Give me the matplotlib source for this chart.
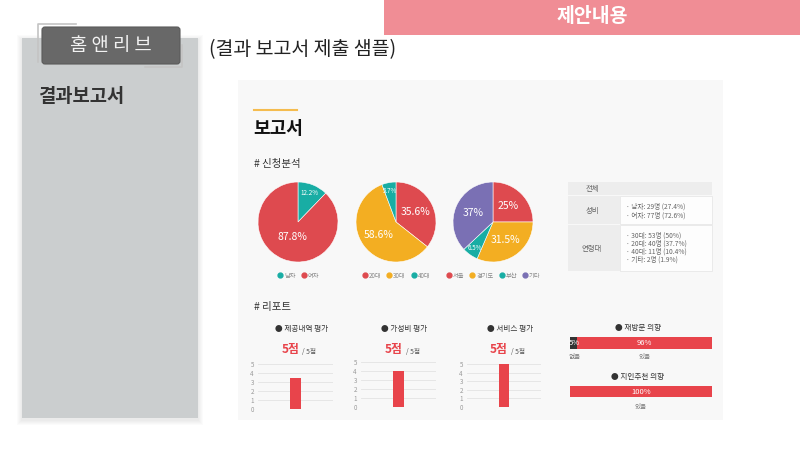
import numpy as np
import matplotlib.pyplot as plt
from matplotlib.patches import Rectangle, FancyBboxPatch
from matplotlib.lines import Line2D

plt.rcParams['font.family'] = ['Noto Sans CJK KR', 'DejaVu Sans']

W, H = 800, 450

# 신청분석 데이터
gender_labels = ['남자', '여자']
gender_pct = [12.2, 87.8]
age_labels = ['20대', '30대', '40대']
age_pct = [35.6, 58.6, 5.7]
region_labels = ['서울', '경기도', '부산', '기타']
region_pct = [25, 31.5, 6.5, 37]

# 표 데이터
table_gender = ['남자: 29명 (27.4%)', '여자: 77명 (72.6%)']
table_age = ['30대: 53명 (50%)', '20대: 40명 (37.7%)', '40대: 11명 (10.4%)', '기타: 2명 (1.9%)']

# 리포트 데이터
score_titles = ['제공내역 평가', '가성비 평가', '서비스 평가']
score_values = [3.5, 4, 5]
score_ticks = [0, 1, 2, 3, 4, 5]

revisit_labels = ['없음', '있음']
revisit_pct = [5, 96]
recommend_labels = ['있음']
recommend_pct = [100]

RED = '#DE4A4F'
TEAL = '#18ADA4'
YELLOW = '#F3AE22'
PURPLE = '#7A70B4'
BAR_RED = '#E8444B'

fig = plt.figure(figsize=(8, 4.5), dpi=100)
bg = fig.add_axes([0, 0, 1, 1])
bg.set_xlim(0, W)
bg.set_ylim(H, 0)
bg.axis('off')


def px_axes(x0, y0, x1, y1):
    ax = fig.add_axes([x0 / W, 1 - y1 / H, (x1 - x0) / W, (y1 - y0) / H])
    ax.patch.set_alpha(0)
    return ax


# 상단 배너
bg.add_patch(Rectangle((384, 0), 416, 35, fc='#F08D95', ec='none'))
bg.text(592, 17, '제안내용', color='white', size=14, weight='bold', ha='center', va='center')

# 왼쪽 회색 패널 (그림자 포함)
for i in range(1, 6):
    bg.add_patch(Rectangle((22 - i, 38 - i + 2), 176 + 2 * i, 380 + 2 * i,
                           fc='black', ec='none', alpha=0.015))
bg.add_patch(Rectangle((22, 38), 176, 380, fc='#CBCECF', ec='none'))
bg.plot([38, 38, 76], [62, 24, 24], color='#c4c4c4', lw=1.2)
bg.plot([145, 182, 182], [67, 67, 45], color='#c4c4c4', lw=1.2)
bg.add_patch(FancyBboxPatch((42, 27), 138, 37, boxstyle='round,pad=0,rounding_size=3',
                            fc='#686868', ec='#5a5a5a', lw=0.8))
bg.text(111, 45, '홈 앤 리 브', color='#f2f2f2', size=13.5, ha='center', va='center')
bg.text(38, 96, '결과보고서', color='#333333', size=13.5, weight='bold', va='center')

bg.text(209, 50, '(결과 보고서 제출 샘플)', color='#222222', size=14, va='center')

# 보고서 패널
bg.add_patch(Rectangle((238, 80), 485, 340, fc='#F8F8F8', ec='none'))
bg.plot([254, 297], [110, 110], color='#F5BC4F', lw=1.5)
bg.text(253, 129, '보고서', color='#111111', size=13, weight='bold', va='center')
bg.text(254, 164, '# 신청분석', color='#333333', size=7.5, va='center')
bg.text(254, 307, '# 리포트', color='#333333', size=7.5, va='center')


def draw_pie(cx, cy, values, labels, colors):
    r = 40
    ax = px_axes(cx - r, cy - r, cx + r, cy + r)
    wedges, _ = ax.pie(values, colors=colors, startangle=90, counterclock=False,
                       wedgeprops=dict(edgecolor='white', linewidth=0.4))
    ax.set_xlim(-1, 1)
    ax.set_ylim(-1, 1)
    ax.set_aspect('equal')
    for w, v in zip(wedges, values):
        ang = np.deg2rad((w.theta1 + w.theta2) / 2)
        if v < 15:
            d, fs = 0.78, 4.5
        elif v > 80:
            d, fs = 0.4, 7.5
        else:
            d, fs = 0.55, 7.5
        ax.text(d * np.cos(ang), d * np.sin(ang), f'{v:g}%', color='white',
                size=fs, ha='center', va='center')
    handles = [Line2D([], [], marker='o', ls='none', color=c, markersize=3.5) for c in colors]
    ax.legend(handles, labels, loc='upper center', bbox_to_anchor=(0.5, -0.05),
              ncol=len(labels), frameon=False, fontsize=4.5, handletextpad=0.1,
              columnspacing=0.8, handlelength=1, labelcolor='#888888')


draw_pie(298, 222, gender_pct, gender_labels, [TEAL, RED])
draw_pie(396, 222, age_pct, age_labels, [RED, YELLOW, TEAL])
draw_pie(493, 222, region_pct, region_labels, [RED, YELLOW, TEAL, PURPLE])

# 요약 표
tc = '#666666'
bg.add_patch(Rectangle((568, 182), 144, 13, fc='#EDEDED', ec='none'))
bg.add_patch(Rectangle((568, 196), 52, 28, fc='#EDEDED', ec='none'))
bg.add_patch(Rectangle((620, 196), 92, 28, fc='#FDFDFD', ec='#e4e4e4', lw=0.5))
bg.add_patch(Rectangle((568, 225), 52, 46, fc='#EDEDED', ec='none'))
bg.add_patch(Rectangle((620, 225), 92, 46, fc='#FDFDFD', ec='#e4e4e4', lw=0.5))
bg.text(592, 189, '전체', color=tc, size=5.3, ha='center', va='center')
bg.text(592, 211, '성비', color=tc, size=5.3, ha='center', va='center')
bg.text(592, 249, '연령대', color=tc, size=5.3, ha='center', va='center')
for i, s in enumerate(table_gender):
    bg.text(626, 207 + i * 8.5, '· ' + s, color=tc, size=4.8, va='center')
for i, s in enumerate(table_age):
    bg.text(626, 236 + i * 7.8, '· ' + s, color=tc, size=4.8, va='center')

# 평가 막대 그래프
chart_x = [(258, 333), (361, 436), (467, 541)]
chart_y = [(364, 409), (362, 407), (364, 407)]
for (x0, x1), (y0, y1), title, val in zip(chart_x, chart_y, score_titles, score_values):
    ax = px_axes(x0, y0, x1, y1)
    ax.bar([0.5], [val], width=0.14, color=BAR_RED, zorder=3)
    ax.set_xlim(0, 1)
    ax.set_ylim(0, 5)
    ax.set_yticks(score_ticks)
    ax.yaxis.grid(True, color='#e3e3e3', lw=0.6)
    ax.set_xticks([])
    for sp in ax.spines.values():
        sp.set_visible(False)
    ax.tick_params(axis='y', length=0, labelsize=4.5, labelcolor='#999999', pad=3)
    cx = (x0 + x1) / 2
    bg.text(cx + 6, 329, '● ' + title, color='#333333', size=5.5, ha='center', va='center')
    bg.text(cx + 4, 349, f'{score_ticks[-1]}점', color=BAR_RED, size=8.5, weight='bold',
            ha='right', va='center')
    bg.text(cx + 7, 352, f'/ {score_ticks[-1]}점', color='#555555', size=4.8, va='center')


# 재방문 / 지인추천 의향
def stack_bar(y0, y1, values, labels, colors, title, ty, ly):
    ax = px_axes(570, y0, 712, y1)
    left = 0
    total = sum(values)
    for v, lab, c in zip(values, labels, colors):
        ax.barh([0], [v], left=left, height=1, color=c)
        mid = left + v / 2
        ax.text(max(mid, 3), 0, f'{v}%', color='white', size=5.5, ha='center', va='center')
        xp = 570 + 142 * max(mid, 3) / total
        bg.text(xp, ly, lab, color='#777777', size=4.8, ha='center', va='center')
        left += v
    ax.set_xlim(0, total)
    ax.set_ylim(-0.5, 0.5)
    ax.axis('off')
    bg.text(638, ty, '● ' + title, color='#333333', size=5.5, ha='center', va='center')


stack_bar(337, 349, revisit_pct, revisit_labels, ['#333333', BAR_RED], '재방문 의향', 328, 357)
stack_bar(386, 397, recommend_pct, recommend_labels, [BAR_RED], '지인추천 의향', 377, 407)

fig.savefig('out.png', dpi=100)
